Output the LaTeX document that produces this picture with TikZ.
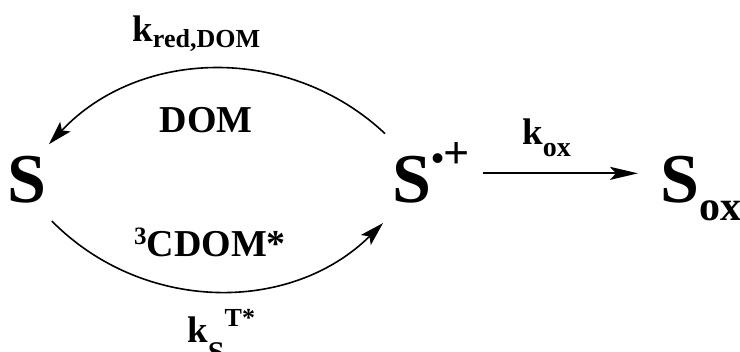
\documentclass[tikz,border=0pt]{standalone}
\usepackage{fontspec}
\setmainfont{Liberation Serif}
\usetikzlibrary{arrows.meta,positioning}
\newcommand{\sz}[1]{\fontsize{#1}{#1}\selectfont}
\newcommand{\upscr}[3]{\raisebox{#1}{\sz{#2}#3}}
\newcommand{\dnscr}[3]{\raisebox{-#1}{\sz{#2}#3}}

\begin{document}
\begin{tikzpicture}[
    x=0.5pt, y=-0.5pt,
    every node/.style={font=\bfseries, inner sep=0pt},
    species/.style={font=\bfseries\sz{35pt}},
    lab/.style={font=\bfseries\sz{19pt}},
    rate/.style={font=\bfseries\sz{18.5pt}},
    arr/.style={-{Stealth[length=12pt,width=7pt,inset=2.5pt]}, line width=0.8pt},
    fwd/.style={-{Stealth[length=14pt,width=6.5pt,inset=3pt]}, line width=1pt}
  ]
  \useasboundingbox (0,0) rectangle (740,352);
  %% species
  \node[species, anchor=base]      (S)    at (27,203)  {S};
  \node[species, anchor=base west] (Srad) at (392,203) {S\upscr{16pt}{18pt}{•}\upscr{17pt}{23pt}{+}};
  \node[species, anchor=base west] (Sox)  at (660,203) {S\dnscr{9pt}{21pt}{ox}};
  %% redox cycle
  \draw[arr] ([xshift=-3.5pt,yshift=4.5pt]Srad.north west) to[bend right=45] ([xshift=1pt,yshift=6pt]S.north east);
  \draw[arr] ([xshift=2.5pt,yshift=-8.5pt]S.south east) to[bend right=45] ([xshift=-4.5pt,yshift=-9.5pt]Srad.south west);
  %% oxidation step
  \draw[fwd, shorten <=6pt, shorten >=11pt] (Srad.east) -- (Srad.east -| Sox.west);
  %% labels
  \node[rate, anchor=base west] (kred) at (132,42)  {k\dnscr{3pt}{13pt}{red,DOM}};
  \node[lab, anchor=base]       (dom)  at (206,133) {DOM};
  \node[lab, anchor=base]       (cdom) at (210,257) {\upscr{6pt}{12.5pt}{3}CDOM*};
  \node[rate, anchor=base west] (kS)   at (187,343) {k\dnscr{10pt}{15pt}{S}\upscr{8pt}{13pt}{T*}};
  \node[rate, anchor=base west] (kox)  at (522,145) {k\dnscr{6pt}{14pt}{ox}};
\end{tikzpicture}
\end{document}
